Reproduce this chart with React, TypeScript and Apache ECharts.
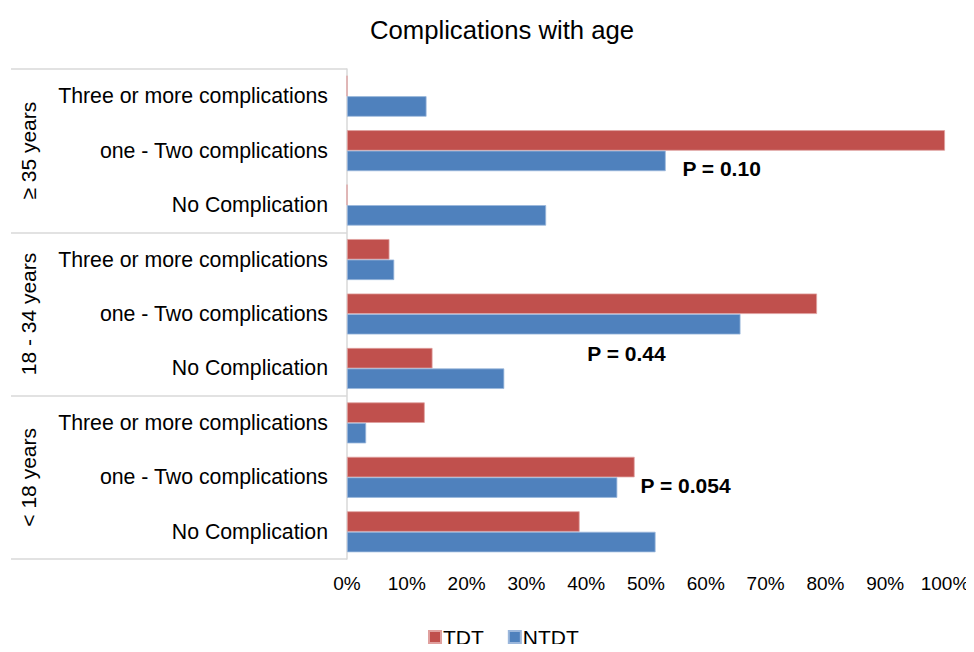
import React, { useEffect, useRef } from "react";
import * as echarts from "echarts";

// Age groups, listed bottom to top
const ageGroups = ["< 18 years", "18 - 34 years", "≥ 35 years"];
// Complication levels within each age group, bottom to top
const complicationLevels = ["No Complication", "one - Two complications", "Three or more complications"];

// Percentages per age group (bottom to top), following complicationLevels order
const tdtValues = [38.9, 48.1, 13.0, 14.3, 78.6, 7.1, 0, 100, 0];
const ntdtValues = [51.6, 45.2, 3.2, 26.3, 65.8, 7.9, 33.3, 53.3, 13.3];

const xTicks = [0, 10, 20, 30, 40, 50, 60, 70, 80, 90, 100];

// P-values for each age group (bottom to top)
const pValues = ["P = 0.054", "P = 0.44", "P = 0.10"];
// row each P label belongs to, and the x value (%) where it starts
const pRows = [1, 3, 7];
const pStartX = [49, 40.1, 56];

const categoryKeys: string[] = [];
ageGroups.forEach((g) => complicationLevels.forEach((c) => categoryKeys.push(g + "|" + c)));

const FONT = "'Liberation Sans', Arial, sans-serif";
const RED = "#C0504D";
const BLUE = "#4F81BD";
// vertical nudges (px) of the P labels relative to their row's TDT bar
const P_LABEL_DY = [18, -4.5, 28.5];

export default function App() {
  const ref = useRef<HTMLDivElement>(null);

  useEffect(() => {
    if (!ref.current) return;
    const chart = echarts.init(ref.current, undefined, { renderer: "svg" });
    chart.setOption({
      animation: false,
      backgroundColor: "#ffffff",
      textStyle: { fontFamily: FONT },
      title: {
        text: "Complications with age",
        left: 497,
        top: 12,
        textAlign: "center",
        textStyle: { fontFamily: FONT, fontSize: 25.7, fontWeight: "normal", color: "#000" },
      },
      legend: {
        top: 625,
        left: 428,
        padding: 0,
        itemWidth: 12,
        itemHeight: 12,
        itemGap: 24,
        icon: "rect",
        textStyle: { fontFamily: FONT, fontSize: 21, lineHeight: 24, color: "#000", padding: [0, 0, 0, -3] },
        data: ["TDT", "NTDT"],
      },
      grid: { left: 347, right: 29, top: 69, bottom: 93, containLabel: false },
      xAxis: {
        type: "value",
        min: 0,
        max: 100,
        interval: 10,
        axisLine: { show: false },
        axisTick: { show: false },
        splitLine: { show: false },
        axisLabel: {
          fontFamily: FONT,
          fontSize: 19,
          color: "#000",
          margin: 15,
          formatter: (v: number) => (xTicks.includes(v) ? v + "%" : ""),
        },
      },
      yAxis: [
        {
          type: "category",
          data: categoryKeys,
          axisLine: { show: true, lineStyle: { color: "#d9d9d9", width: 1.5 } },
          axisTick: { show: false },
          axisLabel: {
            fontFamily: FONT,
            fontSize: 21.3,
            color: "#000",
            margin: 19,
            formatter: (v: string) => v.split("|")[1],
          },
        },
        {
          type: "category",
          data: ageGroups,
          position: "left",
          axisLine: { show: false },
          axisTick: { show: true, length: 336, lineStyle: { color: "#d9d9d9", width: 1.5 } },
          axisLabel: {
            fontFamily: FONT,
            fontSize: 21,
            color: "#000",
            rotate: 90,
            margin: 308,
          },
        },
      ],
      series: [
        {
          name: "TDT",
          type: "bar",
          yAxisIndex: 0,
          data: tdtValues,
          barWidth: 20.5,
          barGap: "0%",
          itemStyle: { color: RED, borderColor: "#e0a09e", borderWidth: 0.8 },
          markPoint: {
            symbol: "rect",
            symbolSize: 1,
            itemStyle: { color: "transparent" },
            label: {
              show: true,
              position: "right",
              distance: 0,
              fontFamily: FONT,
              fontSize: 21,
              fontWeight: "bold",
              color: "#000",
              formatter: (p: any) => p.name,
            },
            data: pValues.map((t, i) => ({
              name: t,
              coord: [pStartX[i], pRows[i]],
              label: { offset: [0, P_LABEL_DY[i]] },
            })),
          },
        },
        {
          name: "NTDT",
          type: "bar",
          yAxisIndex: 0,
          data: ntdtValues,
          barWidth: 20.5,
          barGap: "0%",
          itemStyle: { color: BLUE, borderColor: "#9bb7dc", borderWidth: 0.8 },
        },
      ],
    });
    return () => chart.dispose();
  }, []);

  return <div ref={ref} style={{ width: 974, height: 652, margin: -8 }} />;
}
